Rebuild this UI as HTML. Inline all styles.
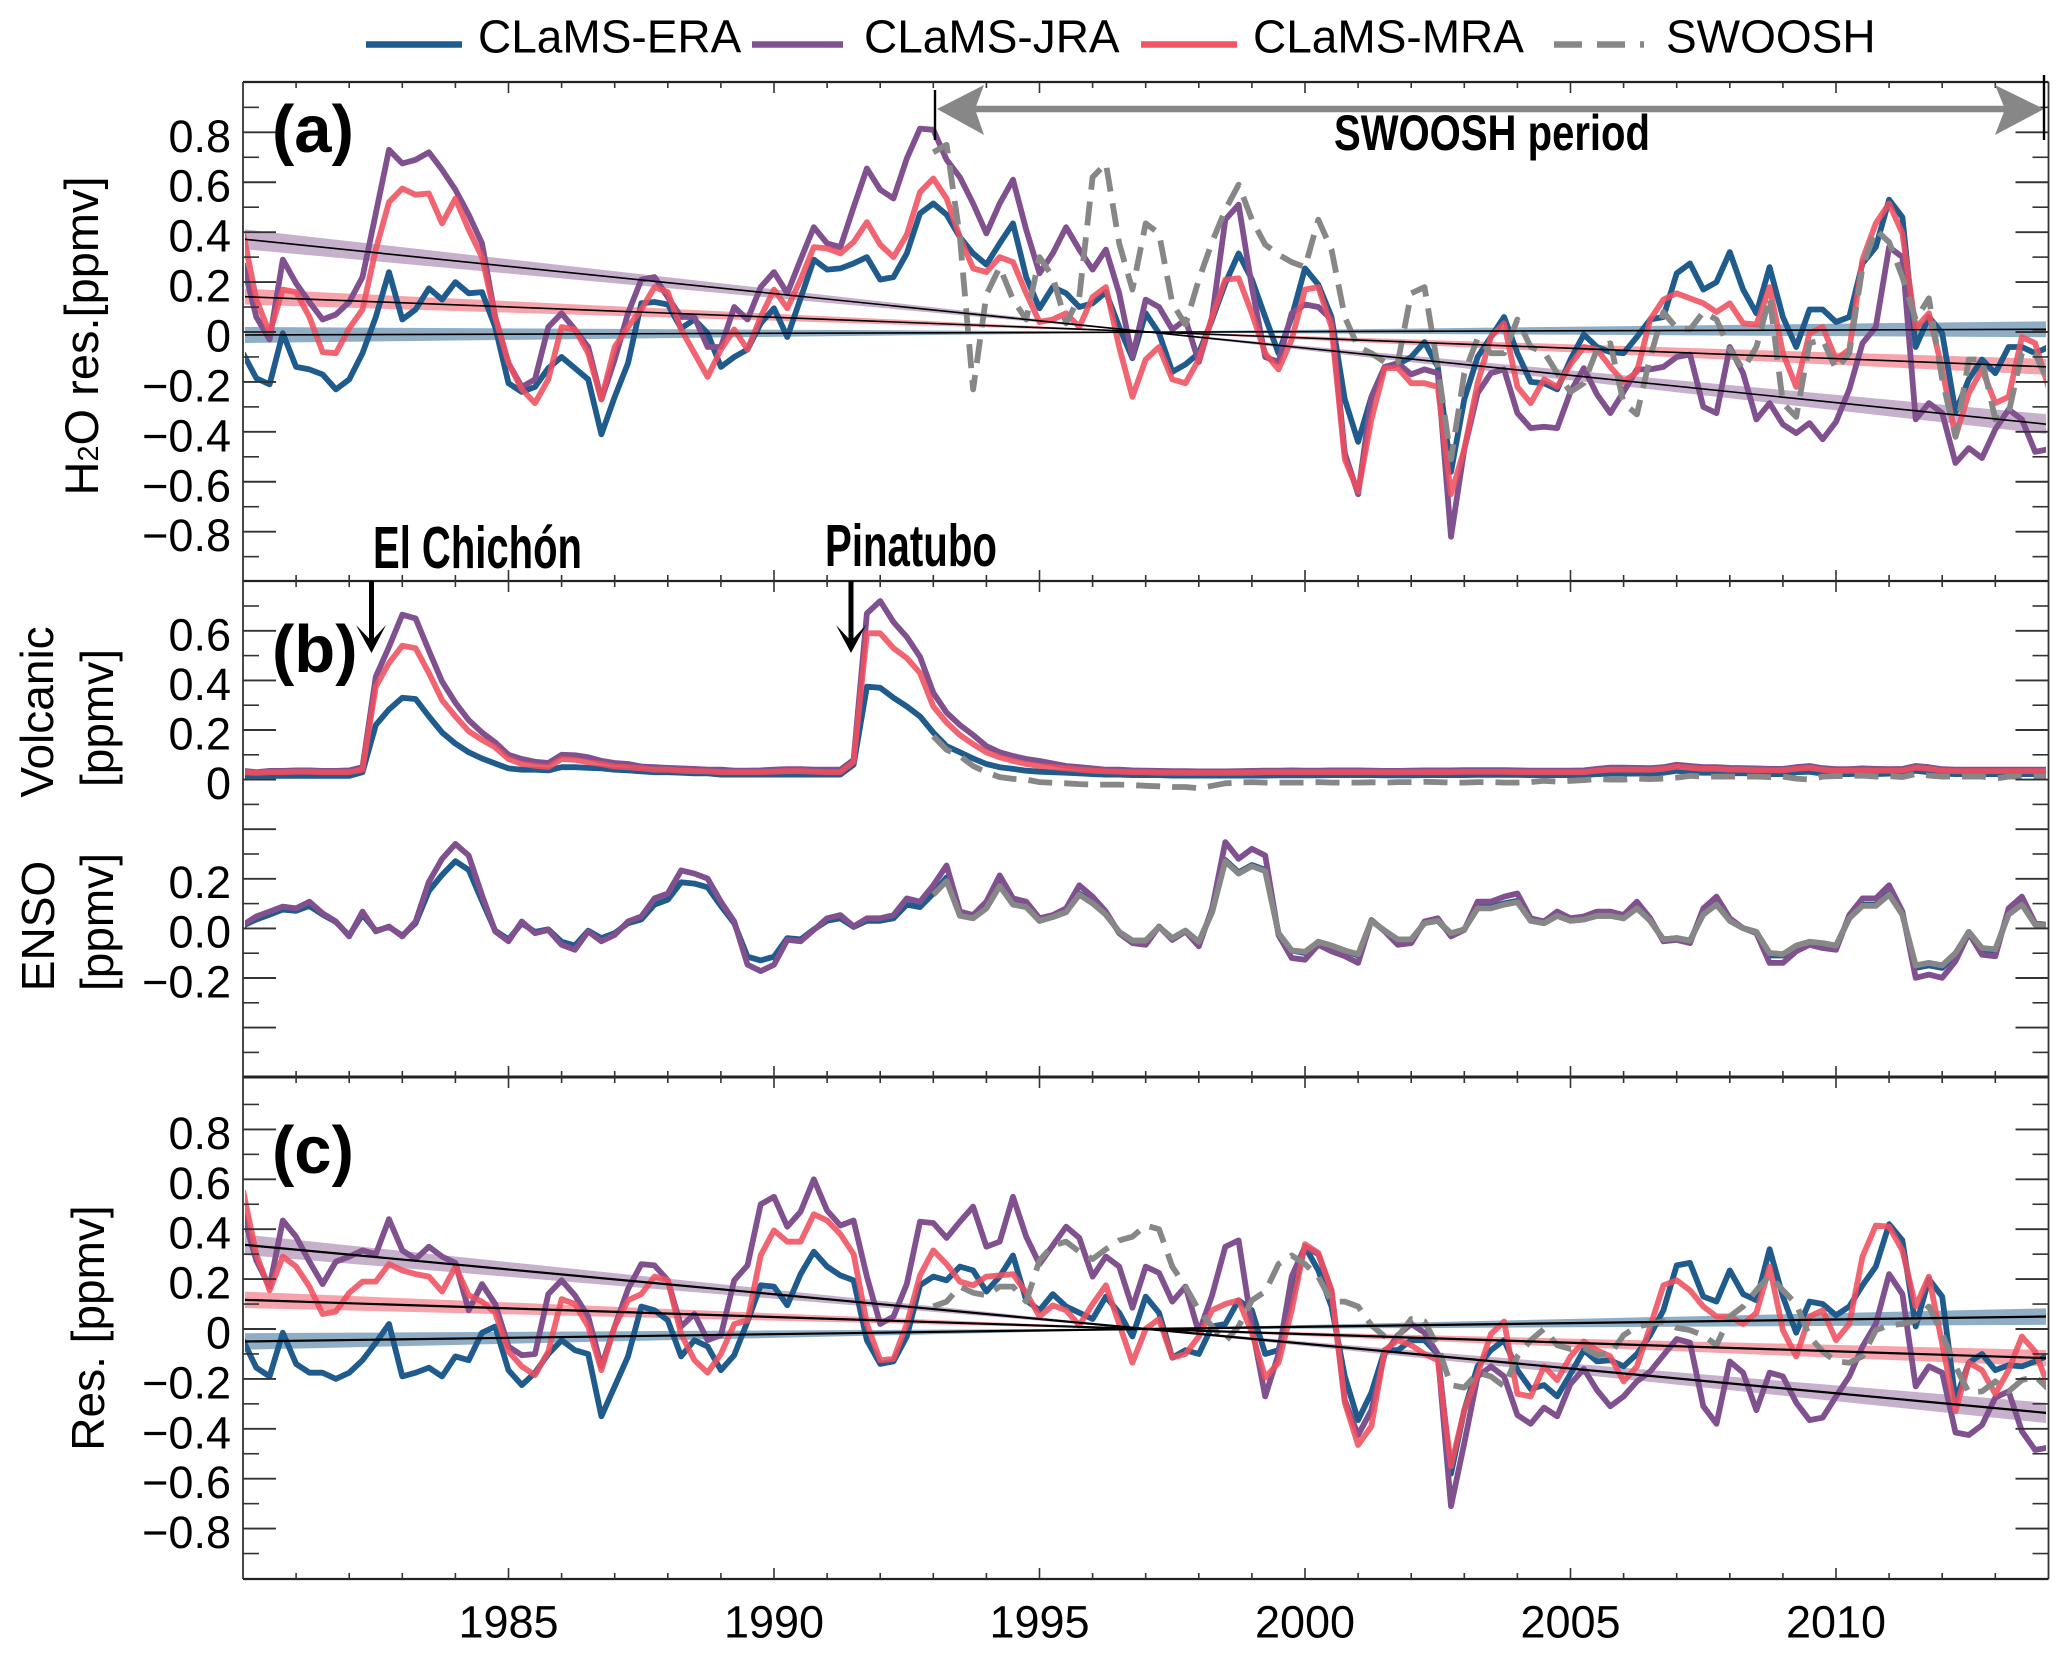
<!DOCTYPE html>
<html lang="en">
<head>
<meta charset="utf-8">
<title>Stratospheric H2O time series</title>
<style>
html,body{margin:0;padding:0;background:#fff;}
svg{display:block;}
text{font-family:"Liberation Sans",sans-serif;fill:#000;}
</style>
</head>
<body>
<svg id="chart" xmlns="http://www.w3.org/2000/svg" width="2067" height="1657" viewBox="0 0 2067 1657">
  <defs>
    <clipPath id="plot-clip"><rect x="245" y="82" width="1801" height="1497"/></clipPath>
  </defs>
  <g id="marks" clip-path="url(#plot-clip)"></g>
  <g id="axes"></g>

  <g>
    <g>
      <line x1="366" y1="44.5" x2="462" y2="44.5" stroke="#1f5b8c" stroke-width="6.5"/>
      <text x="478" y="52.5" font-size="46">CLaMS-ERA</text>
    </g>
    <g>
      <line x1="752" y1="44.5" x2="843" y2="44.5" stroke="#80508f" stroke-width="6.5"/>
      <text x="864" y="52.5" font-size="46">CLaMS-JRA</text>
    </g>
    <g>
      <line x1="1141" y1="44.5" x2="1237" y2="44.5" stroke="#ef5563" stroke-width="6.5"/>
      <text x="1253" y="52.5" font-size="46">CLaMS-MRA</text>
    </g>
    <g>
      <line x1="1554" y1="44.5" x2="1644" y2="44.5" stroke="#878787" stroke-width="6.5" stroke-dasharray="28 15"/>
      <text x="1666" y="52.5" font-size="46">SWOOSH</text>
    </g>
  </g>

  <g>
    <line x1="975" y1="109" x2="2005" y2="109" stroke="#878787" stroke-width="6.5"/>
    <polygon points="937,109 984,85 975,109 984,135" fill="#878787"/>
    <polygon points="2044,109 1995,85 2005,109 1995,135" fill="#878787"/>
    <line x1="935" y1="90" x2="935" y2="140" stroke="#000" stroke-width="2.4"/>
    <line x1="2044" y1="75" x2="2044" y2="140" stroke="#000" stroke-width="2.4"/>
    <text x="1334" y="150" font-size="50" font-weight="bold" textLength="316" lengthAdjust="spacingAndGlyphs">SWOOSH period</text>
  </g>

  <text x="272" y="152" font-size="67" font-weight="bold">(a)</text>
  <text x="272" y="672" font-size="67" font-weight="bold">(b)</text>
  <text x="272" y="1173" font-size="67" font-weight="bold">(c)</text>

  <text x="373" y="568" font-size="59" font-weight="bold" textLength="209" lengthAdjust="spacingAndGlyphs">El Chichón</text>
  <text x="825" y="566" font-size="59" font-weight="bold" textLength="172" lengthAdjust="spacingAndGlyphs">Pinatubo</text>

  <g>
    <line x1="371.5" y1="581" x2="371.5" y2="645" stroke="#000" stroke-width="5"/>
    <polygon points="356,625 371.5,653 386,625 371.5,641" fill="#000"/>
  </g>
  <g>
    <line x1="851" y1="581" x2="851" y2="645" stroke="#000" stroke-width="5"/>
    <polygon points="836,625 851,653 866,625 851,641" fill="#000"/>
  </g>

  <text transform="translate(98,336) rotate(-90)" text-anchor="middle" font-size="47">H<tspan font-size="29">2</tspan>O res.[ppmv]</text>
  <text transform="translate(53,712) rotate(-90)" text-anchor="middle" font-size="46">Volcanic</text>
  <text transform="translate(113,718) rotate(-90)" text-anchor="middle" font-size="46">[ppmv]</text>
  <text transform="translate(54,926) rotate(-90)" text-anchor="middle" font-size="46">ENSO</text>
  <text transform="translate(113,922) rotate(-90)" text-anchor="middle" font-size="46">[ppmv]</text>
  <text transform="translate(104,1328) rotate(-90)" text-anchor="middle" font-size="46">Res. [ppmv]</text>
</svg>

<script>
// ---- x axis data ----
const firstYear = 1980;
const lastYear = 2014;
const swooshFirstYear = 1993;
const samplesPerYear = 4;
const xTickLabels = [1985, 1990, 1995, 2000, 2005, 2010];

// ---- y tick labels ----
const panelATickLabels = [0.8, 0.6, 0.4, 0.2, 0, -0.2, -0.4, -0.6, -0.8];
const volcanicTickLabels = [0.6, 0.4, 0.2, 0];
const ensoTickLabels = [0.2, 0.0, -0.2];
const panelCTickLabels = [0.8, 0.6, 0.4, 0.2, 0, -0.2, -0.4, -0.6, -0.8];

// ---- panel (a): quarterly H2O residuals, ppmv, one row per year ----
const aEra = [
-.085,-.185,-.21,-.005,
-.14,-.15,-.17,-.23,
-.19,-.085,.06,.24,
.05,.09,.175,.13,
.2,.155,.16,.02,
-.205,-.24,-.22,-.145,
-.10,-.145,-.19,-.41,
-.26,-.125,.115,.12,
.11,.015,.05,-.005,
-.14,-.10,-.07,.035,
.095,-.02,.135,.29,
.25,.255,.275,.30,
.21,.22,.315,.475,
.515,.47,.38,.315,
.27,.355,.435,.22,
.095,.18,.155,.10,
.115,.16,.02,-.105,
.075,-.005,-.16,-.13,
-.085,.05,.195,.315,
.21,.06,-.085,.06,
.255,.19,.06,-.27,
-.44,-.26,-.14,-.13,
-.10,-.04,-.14,-.56,
-.27,-.10,-.02,.06,
-.085,-.20,-.205,-.23,
-.11,-.01,-.06,-.08,
-.085,-.02,.05,.06,
.235,.275,.17,.20,
.32,.17,.075,.26,
.06,-.06,.09,.09,
.04,.06,.275,.34,
.53,.46,-.06,.06,
-.005,-.32,-.19,-.11,
-.165,-.06,-.06,-.085,
-.06];
const aJra = [
.275,.06,-.03,.29,
.195,.12,.05,.07,
.12,.22,.475,.73,
.675,.69,.72,.65,
.57,.47,.355,.06,
-.125,-.22,-.19,.02,
.075,.01,-.06,-.27,
-.11,.075,.21,.22,
.14,.06,.06,-.06,
-.06,.10,.05,.18,
.24,.155,.29,.42,
.355,.34,.50,.655,
.57,.535,.695,.815,
.81,.69,.62,.515,
.395,.515,.61,.41,
.235,.315,.42,.33,
.25,.33,.155,-.10,
.13,.10,.01,.05,
-.12,.06,.45,.51,
.18,-.10,-.12,.075,
.11,.10,.05,-.485,
-.65,-.26,-.14,-.125,
-.17,-.15,-.165,-.82,
-.47,-.245,-.165,-.15,
-.325,-.385,-.38,-.385,
-.24,-.145,-.25,-.325,
-.24,-.15,-.15,-.14,
-.10,-.09,-.30,-.325,
-.06,-.165,-.35,-.285,
-.37,-.405,-.365,-.43,
-.36,-.23,-.045,.02,
.34,.30,-.35,-.285,
-.325,-.525,-.465,-.505,
-.39,-.31,-.35,-.48,
-.47];
const aMra = [
.40,.13,-.005,.17,
.16,.06,-.08,-.085,
.015,.09,.33,.52,
.575,.55,.555,.435,
.535,.41,.30,.06,
-.125,-.23,-.285,-.19,
.02,.01,-.085,-.27,
-.06,.02,.09,.18,
.16,.01,-.085,-.18,
-.07,.01,-.07,.06,
.17,.095,.21,.34,
.335,.315,.36,.44,
.35,.30,.39,.56,
.615,.535,.38,.255,
.24,.30,.28,.155,
.04,.05,.075,.02,
.14,.18,-.06,-.26,
-.11,-.06,-.19,-.205,
-.11,.06,.21,.215,
.075,-.085,-.15,-.03,
.17,.18,.02,-.51,
-.64,-.35,-.145,-.145,
-.205,-.205,-.22,-.65,
-.47,-.205,-.02,.035,
-.22,-.285,-.19,-.22,
-.13,-.06,-.07,-.14,
-.20,-.16,.05,.13,
.155,.135,.115,.08,
.115,.035,.03,.18,
-.085,-.22,-.005,.02,
-.11,-.07,.29,.435,
.515,.395,.015,.075,
-.15,-.42,-.245,-.15,
-.285,-.26,-.02,-.045,
-.22];
const aSwoosh = [
.72,.75,.38,-.23,
.15,.26,.13,.05,
.30,.22,.035,.14,
.62,.675,.355,.17,
.435,.395,.115,.03,
.21,.36,.49,.59,
.45,.35,.31,.28,
.26,.45,.33,.06,
-.06,-.085,-.12,-.12,
.155,.18,-.14,-.51,
-.165,-.025,-.085,-.085,
.05,-.06,-.08,-.165,
-.24,-.205,-.07,-.045,
-.285,-.33,-.10,.08,
.015,.01,.08,.05,
-.07,-.15,-.06,.14,
-.285,-.34,-.045,-.03,
-.15,-.085,.26,.41,
.36,.22,.05,.135,
-.19,-.42,-.11,-.11,
-.35,-.325,-.085,-.085,
-.205];

// ---- panel (b): volcanic term ----
const bEra = [
.015,.015,.015,.015,
.015,.015,.015,.015,
.015,.03,.22,.283,
.33,.325,.255,.19,
.145,.11,.085,.065,
.045,.04,.04,.037,
.05,.05,.047,.045,
.04,.037,.033,.03,
.03,.028,.025,.025,
.02,.02,.02,.02,
.02,.02,.02,.02,
.02,.02,.06,.375,
.37,.33,.295,.255,
.19,.135,.11,.085,
.063,.05,.043,.036,
.032,.03,.028,.025,
.022,.02,.02,.018,
.018,.018,.016,.016,
.016,.016,.016,.016,
.016,.016,.017,.017,
.017,.017,.018,.018,
.018,.018,.017,.017,
.017,.018,.018,.018,
.018,.019,.019,.019,
.019,.018,.018,.018,
.018,.018,.022,.024,
.024,.024,.024,.028,
.036,.03,.028,.028,
.026,.026,.024,.022,
.022,.03,.032,.024,
.022,.022,.024,.022,
.024,.024,.036,.03,
.024,.022,.022,.022,
.022,.022,.022,.022,
.022];
const bJra = [
.035,.03,.035,.035,
.037,.037,.035,.035,
.037,.05,.415,.535,
.665,.65,.52,.395,
.31,.24,.19,.15,
.10,.083,.072,.067,
.10,.098,.09,.076,
.067,.063,.053,.05,
.047,.045,.043,.04,
.04,.036,.036,.037,
.04,.042,.042,.04,
.04,.04,.08,.67,
.72,.635,.575,.495,
.35,.27,.22,.18,
.135,.11,.095,.083,
.075,.065,.055,.05,
.045,.04,.04,.037,
.036,.035,.034,.034,
.033,.033,.033,.034,
.035,.036,.036,.037,
.036,.036,.037,.037,
.037,.036,.035,.035,
.036,.037,.037,.037,
.038,.038,.038,.038,
.037,.036,.036,.036,
.036,.037,.043,.048,
.048,.047,.046,.05,
.06,.055,.05,.05,
.047,.046,.045,.043,
.043,.05,.055,.046,
.042,.042,.045,.043,
.042,.043,.055,.05,
.042,.04,.04,.04,
.04,.04,.04,.04,
.04];
const bMra = [
.03,.027,.03,.03,
.032,.032,.03,.03,
.03,.04,.375,.47,
.54,.53,.43,.32,
.255,.195,.16,.13,
.083,.063,.056,.05,
.083,.08,.07,.063,
.053,.05,.045,.04,
.04,.036,.034,.033,
.03,.03,.03,.03,
.032,.034,.034,.032,
.03,.03,.07,.59,
.59,.53,.49,.43,
.295,.23,.18,.143,
.11,.09,.076,.063,
.055,.05,.045,.04,
.036,.033,.032,.03,
.03,.028,.028,.027,
.027,.027,.027,.028,
.028,.03,.03,.03,
.03,.03,.03,.03,
.03,.03,.029,.029,
.03,.03,.03,.03,
.031,.031,.031,.031,
.03,.03,.03,.03,
.03,.03,.036,.04,
.04,.04,.039,.043,
.052,.047,.043,.043,
.04,.04,.038,.037,
.037,.043,.047,.039,
.035,.035,.037,.036,
.036,.036,.048,.043,
.036,.034,.034,.034,
.034,.034,.034,.034,
.034];
const bSwoosh = [
.175,.12,.095,.055,
.03,.01,.003,0,
-.01,-.013,-.015,-.018,
-.02,-.02,-.02,-.022,
-.025,-.027,-.03,-.03,
-.035,-.025,-.015,-.012,
-.01,-.012,-.012,-.012,
-.012,-.01,-.012,-.012,
-.012,-.011,-.012,-.01,
-.01,-.009,-.01,-.012,
-.012,-.01,-.01,-.012,
-.012,-.01,-.005,-.008,
-.005,-.002,.002,0,
0,.004,.002,.004,
.008,.015,.012,.012,
.012,.012,.012,.01,
.012,.004,0,.012,
.014,.014,.016,.012,
.014,.01,.022,.016,
.012,.012,.012,.012,
.004,.012,.012,.012,
.012];

// ---- panel (b): ENSO term ----
const eEra = [
.01,.035,.055,.075,
.07,.09,.055,.025,
-.03,.055,-.01,.005,
-.03,.02,.15,.215,
.27,.235,.11,-.01,
-.045,.02,-.015,-.005,
-.055,-.07,-.01,-.04,
-.02,.02,.035,.095,
.115,.185,.18,.165,
.09,.02,-.115,-.13,
-.115,-.04,-.045,-.005,
.03,.04,.005,.03,
.03,.04,.095,.085,
.14,.205,.055,.045,
.085,.18,.10,.09,
.03,.045,.065,.14,
.105,.055,-.015,-.05,
-.05,.005,-.04,-.01,
-.055,.065,.275,.225,
.255,.235,-.02,-.09,
-.10,-.055,-.07,-.09,
-.11,.03,-.01,-.05,
-.045,.02,.03,-.025,
-.005,.085,.085,.10,
.11,.03,.02,.05,
.03,.035,.05,.05,
.04,.085,.03,-.045,
-.04,-.05,.06,.10,
.03,0,-.015,-.11,
-.11,-.075,-.055,-.065,
-.07,.04,.095,.095,
.14,.055,-.16,-.15,
-.16,-.105,-.015,-.085,
-.09,.06,.10,.015,
.01];
const eJra = [
.013,.047,.067,.087,
.08,.107,.06,.027,
-.033,.067,-.013,.007,
-.033,.027,.187,.28,
.34,.293,.133,-.013,
-.053,.027,-.02,-.007,
-.067,-.087,-.013,-.053,
-.027,.027,.047,.12,
.14,.233,.22,.20,
.107,.027,-.147,-.173,
-.147,-.047,-.053,-.007,
.04,.053,.007,.04,
.04,.053,.12,.107,
.173,.253,.067,.053,
.107,.213,.12,.107,
.04,.053,.08,.173,
.127,.067,-.02,-.06,
-.067,.007,-.047,-.013,
-.073,.08,.347,.28,
.32,.293,-.027,-.12,
-.127,-.067,-.093,-.113,
-.14,.033,-.013,-.067,
-.06,.027,.04,-.033,
-.007,.107,.107,.127,
.14,.04,.027,.067,
.04,.047,.067,.067,
.053,.107,.04,-.053,
-.047,-.06,.08,.127,
.04,0,-.02,-.14,
-.14,-.093,-.067,-.08,
-.087,.053,.12,.12,
.173,.067,-.20,-.187,
-.20,-.133,-.02,-.107,
-.113,.08,.127,.02,
.013];
const eSwoosh = [
.135,.19,.05,.04,
.08,.17,.095,.085,
.03,.045,.065,.135,
.10,.055,-.015,-.05,
-.05,.005,-.04,-.01,
-.055,.065,.27,.22,
.25,.23,-.02,-.09,
-.095,-.055,-.07,-.09,
-.105,.03,-.01,-.045,
-.045,.02,.03,-.02,
-.005,.08,.08,.095,
.105,.03,.02,.05,
.03,.035,.05,.05,
.04,.08,.03,-.045,
-.04,-.05,.055,.095,
.03,0,-.015,-.10,
-.105,-.07,-.055,-.06,
-.07,.04,.09,.09,
.135,.055,-.15,-.14,
-.15,-.10,-.015,-.08,
-.085,.055,.095,.015,
.01];

// ---- panel (c): residuals ----
const cEra = [
-.045,-.155,-.19,-.015,
-.14,-.175,-.175,-.20,
-.175,-.125,-.055,.02,
-.19,-.175,-.155,-.19,
-.11,-.125,-.015,.01,
-.165,-.225,-.175,-.10,
-.045,-.085,-.10,-.35,
-.23,-.11,.09,.075,
.035,-.11,-.045,-.07,
-.165,-.105,.03,.175,
.17,.095,.22,.31,
.25,.215,.195,-.045,
-.14,-.13,-.03,.175,
.21,.195,.25,.235,
.15,.21,.295,.115,
.075,.14,.09,.065,
.04,.13,.065,-.03,
.13,.065,-.115,-.085,
-.10,.01,.02,.115,
.075,-.10,-.085,.13,
.33,.235,.09,-.19,
-.365,-.255,-.085,-.085,
-.045,-.045,-.10,-.58,
-.325,-.15,-.085,-.045,
-.165,-.24,-.225,-.27,
-.18,-.085,-.13,-.125,
-.15,-.10,-.025,.075,
.255,.265,.13,.11,
.235,.14,.115,.32,
.13,-.015,.11,.10,
.055,.09,.175,.25,
.42,.355,.01,.20,
.13,-.285,-.135,-.10,
-.165,-.145,-.15,-.13,
-.105];
const cJra = [
.46,.275,.17,.435,
.37,.27,.18,.27,
.29,.315,.30,.44,
.315,.28,.33,.29,
.265,.075,.18,.10,
-.07,-.105,-.10,.14,
.195,.135,.05,-.15,
.01,.16,.26,.255,
.195,.01,.06,-.045,
-.025,.195,.255,.50,
.53,.41,.47,.60,
.475,.415,.435,.21,
.02,.05,.18,.43,
.425,.365,.43,.49,
.33,.35,.53,.37,
.26,.335,.41,.365,
.21,.29,.25,.085,
.25,.225,.11,.17,
-.015,.135,.33,.355,
.01,-.27,-.10,.21,
.33,.30,.155,-.285,
-.425,-.325,-.10,-.025,
.02,-.015,-.10,-.71,
-.457,-.19,-.15,-.19,
-.345,-.38,-.315,-.35,
-.22,-.16,-.245,-.31,
-.27,-.21,-.17,-.105,
-.04,-.055,-.31,-.38,
-.13,-.175,-.325,-.175,
-.19,-.295,-.365,-.355,
-.27,-.19,-.07,.02,
.22,.14,-.23,-.15,
-.175,-.415,-.425,-.385,
-.275,-.25,-.41,-.485,
-.475];
const cMra = [
.555,.30,.155,.29,
.25,.17,.06,.07,
.145,.19,.19,.26,
.235,.22,.21,.15,
.25,.135,.11,.065,
-.09,-.15,-.185,-.09,
.12,.10,.01,-.165,
.01,.115,.14,.21,
.195,-.02,-.125,-.175,
-.10,.02,.035,.295,
.395,.35,.35,.46,
.435,.38,.30,.02,
-.125,-.12,.02,.215,
.315,.26,.19,.175,
.21,.215,.22,.145,
.05,.095,.075,.015,
.10,.175,.02,-.135,
0,.04,-.115,-.10,
-.03,.075,.10,.115,
-.015,-.195,-.135,.075,
.34,.305,.155,-.295,
-.465,-.39,-.085,-.045,
-.065,-.10,-.125,-.55,
-.325,-.18,-.02,.03,
-.26,-.27,-.15,-.205,
-.11,-.05,-.085,-.11,
-.21,-.15,.01,.175,
.195,.155,.09,.05,
.05,.02,.065,.25,
-.005,-.11,.05,.075,
-.045,.02,.29,.415,
.41,.315,.09,.21,
-.06,-.33,-.135,-.165,
-.26,-.165,-.03,-.09,
-.23];
const cSwoosh = [
.09,.11,.17,.145,
.135,.17,.17,.11,
.275,.335,.35,.31,
.28,.32,.355,.37,
.415,.40,.25,.17,
.075,.01,-.05,.01,
.115,.15,.26,.295,
.26,.21,.11,.11,
.09,.015,-.03,-.03,
.04,.03,-.07,-.225,
-.235,-.175,-.19,-.23,
-.11,-.045,0,-.065,
-.08,-.075,-.105,-.10,
-.025,.01,.02,.03,
.005,-.005,-.025,-.065,
.05,.09,.155,.215,
.155,.10,-.03,-.09,
-.13,-.135,-.11,-.005,
.015,.02,.035,.09,
-.02,-.15,-.255,-.25,
-.21,-.25,-.205,-.19,
-.24];

// ---- linear trends: [ERA, JRA, MRA], ppmv at first and last year ----
const aTrendStart = [-.012, .372, .142];
const aTrendEnd = [.011, -.37, -.14];
const aBandHalf = [.032, .04, .032];
const cTrendStart = [-.05, .338, .117];
const cTrendEnd = [.05, -.337, -.117];
const cBandHalf = [.033, .041, .033];
const trendNames = ['era', 'jra', 'mra'];

// ---- axis functions ----
const NS = 'http://www.w3.org/2000/svg';
const xOf = t => 243 + 53.1 * (t - firstYear);
const yA = v => 332 - 249.6 * v;
const yVol = v => 779.6 - 248 * v;
const yEnso = v => 928.2 - 248 * v;
const yC = v => 1329 - 249.5 * v;

const COLORS = { era: '#1f5b8c', jra: '#80508f', mra: '#ef4f5f', swoosh: '#878787' };
const BAND_COLORS = ['rgba(31,91,140,.5)', 'rgba(128,80,143,.45)', 'rgba(239,79,95,.52)'];

const marks = document.getElementById('marks');
const axes = document.getElementById('axes');

function mk(parent, tag, attrs) {
  const el = document.createElementNS(NS, tag);
  for (const k in attrs) el.setAttribute(k, attrs[k]);
  parent.appendChild(el);
  return el;
}

function drawSeries(values, startYear, yFn, key, dashed, panel, opacity) {
  const pts = values.map((v, i) => xOf(startYear + i / samplesPerYear).toFixed(1) + ',' + yFn(v).toFixed(1));
  const el = mk(marks, 'polyline', {
    points: pts.join(' '), fill: 'none', stroke: COLORS[key],
    'stroke-width': 5.8, 'stroke-linejoin': 'round', 'stroke-opacity': opacity
  });
  if (dashed) el.setAttribute('stroke-dasharray', '24 12');
  
  
}

function drawBands(starts, ends, halves, yFn, panel) {
  const mid = 1997;
  const tMid = (mid - firstYear) / (lastYear - firstYear);
  starts.forEach((s, i) => {
    const e = ends[i];
    const c = s + (e - s) * tMid;
    const top = [[firstYear, s + halves[i]], [mid, c + .002], [lastYear, e + halves[i]]];
    const bot = [[lastYear, e - halves[i]], [mid, c - .002], [firstYear, s - halves[i]]];
    const pts = top.concat(bot).map(p => xOf(p[0]).toFixed(1) + ',' + yFn(p[1]).toFixed(1)).join(' ');
    const el = mk(marks, 'polygon', { points: pts, fill: BAND_COLORS[i] });
    
    
  });
}

function drawTrendLines(starts, ends, yFn, panel, width) {
  starts.forEach((s, i) => {
    const el = mk(marks, 'line', {
      x1: xOf(firstYear), y1: yFn(s).toFixed(1), x2: xOf(lastYear), y2: yFn(ends[i]).toFixed(1),
      stroke: '#000', 'stroke-width': width
    });
    
    
  });
}

// panel (a)
drawBands(aTrendStart, aTrendEnd, aBandHalf, yA, 'panel-a');
drawSeries(aEra, firstYear, yA, 'era', false, 'panel-a', 1);
drawSeries(aJra, firstYear, yA, 'jra', false, 'panel-a', 1);
drawSeries(aMra, firstYear, yA, 'mra', false, 'panel-a', .88);
drawSeries(aSwoosh, swooshFirstYear, yA, 'swoosh', true, 'panel-a', 1);
drawTrendLines(aTrendStart, aTrendEnd, yA, 'panel-a', 1.6);

// panel (b) volcanic
drawSeries(bEra, firstYear, yVol, 'era', false, 'volcanic', 1);
drawSeries(bJra, firstYear, yVol, 'jra', false, 'volcanic', 1);
drawSeries(bMra, firstYear, yVol, 'mra', false, 'volcanic', .88);
drawSeries(bSwoosh, swooshFirstYear, yVol, 'swoosh', true, 'volcanic', 1);

// panel (b) ENSO
drawSeries(eEra, firstYear, yEnso, 'era', false, 'enso', 1);
drawSeries(eJra, firstYear, yEnso, 'jra', false, 'enso', 1);
drawSeries(eSwoosh, swooshFirstYear, yEnso, 'swoosh', false, 'enso', 1);

// panel (c)
drawBands(cTrendStart, cTrendEnd, cBandHalf, yC, 'panel-c');
drawSeries(cEra, firstYear, yC, 'era', false, 'panel-c', 1);
drawSeries(cJra, firstYear, yC, 'jra', false, 'panel-c', 1);
drawSeries(cMra, firstYear, yC, 'mra', false, 'panel-c', .88);
drawSeries(cSwoosh, swooshFirstYear, yC, 'swoosh', true, 'panel-c', 1);
drawTrendLines(cTrendStart, cTrendEnd, yC, 'panel-c', 2.2);

// ---- frame ----
const L = 243, R = 2048.5;
const panelEdges = [82, 581, 1077, 1579];
panelEdges.forEach((y, i) => {
  const el = mk(axes, 'line', { x1: L, y1: y, x2: R, y2: y, stroke: '#222', 'stroke-width': i === 2 ? 3 : 2.2 });
  
  
});
[L, R].forEach((x, i) => {
  const el = mk(axes, 'line', { x1: x, y1: 82, x2: x, y2: 1579, stroke: '#333', 'stroke-width': 1.8 });
  
  
});

// ---- x ticks ----
for (let yr = firstYear + 1; yr < lastYear; yr++) {
  const x = xOf(yr);
  const major = xTickLabels.includes(yr);
  const len = major ? 11 : 6;
  const spans = [[82, 82 + len], [581 - len, 581 + len], [1077 - len, 1077 + len], [1579 - len, 1579]];
  spans.forEach(s => {
    const el = mk(axes, 'line', { x1: x, y1: s[0], x2: x, y2: s[1], stroke: '#333', 'stroke-width': 1.6 });
    
    
  });
}
xTickLabels.forEach(yr => {
  const t = mk(axes, 'text', { x: xOf(yr), y: 1637.5, 'text-anchor': 'middle', 'font-size': 45 });
  t.textContent = String(yr);
  
  
});

// ---- y ticks ----
function drawYTicks(center, stepPx, kMin, kMax) {
  for (let k = kMin; k <= kMax; k++) {
    const y = center - stepPx * k;
    const major = k % 2 === 0;
    const len = major ? 33 : 16;
    [[L, L + len], [R - len, R]].forEach(s => {
      const el = mk(axes, 'line', { x1: s[0], y1: y, x2: s[1], y2: y, stroke: '#333', 'stroke-width': major ? 1.9 : 1.6 });
      
      
    });
  }
}
drawYTicks(332, 24.96, -9, 9);
drawYTicks(779.6, 24.8, -11, 7);
drawYTicks(1329, 24.95, -9, 9);

function drawYLabels(labels, yFn, decimalsForZero, panel) {
  labels.forEach(v => {
    let s = v === 0 ? (decimalsForZero ? '0.0' : '0') : Math.abs(v).toFixed(1);
    if (v < 0) s = '\u2212' + s;
    const t = mk(axes, 'text', { x: 231, y: (yFn(v) + 19.5).toFixed(1), 'text-anchor': 'end', 'font-size': 45 });
    t.textContent = s;
    
    
  });
}
drawYLabels(panelATickLabels, yA, false, 'panel-a');
drawYLabels(volcanicTickLabels, yVol, false, 'volcanic');
drawYLabels(ensoTickLabels, yEnso, true, 'enso');
drawYLabels(panelCTickLabels, yC, false, 'panel-c');
</script>
</body>
</html>
